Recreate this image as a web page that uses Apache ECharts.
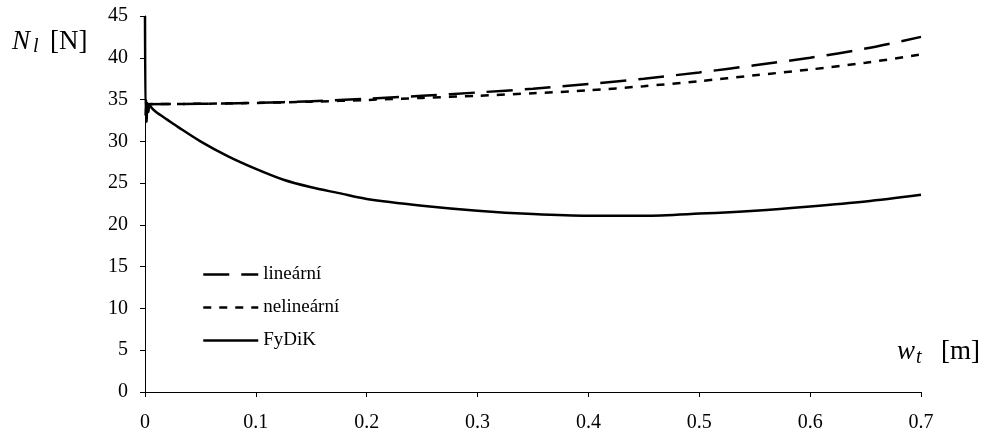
<!DOCTYPE html>
<html>
<head>
<meta charset="utf-8">
<script src="https://cdn.jsdelivr.net/npm/echarts@6/dist/echarts.min.js"></script>
<style>html,body{margin:0;padding:0;background:#fff}#c{width:984px;height:436px}</style>
</head>
<body>
<div id="c"></div>
<script>
// ---- data ----
var xLines = [0, 0.05, 0.1, 0.15, 0.2, 0.25, 0.3, 0.35, 0.4, 0.45, 0.5, 0.55, 0.6, 0.65, 0.7];
var linearValues = [34.45, 34.5, 34.6, 34.8, 35.1, 35.45, 35.85, 36.3, 36.85, 37.5, 38.25, 39.1, 40.0, 41.1, 42.5];
var nonlinearValues = [34.45, 34.5, 34.6, 34.75, 34.95, 35.2, 35.45, 35.75, 36.1, 36.6, 37.2, 37.9, 38.6, 39.4, 40.4];
var xFydik = [0, 0.0005, 0.001, 0.0015, 0.002, 0.003, 0.004, 0.006, 0.01, 0.02, 0.03, 0.05, 0.075, 0.1, 0.125, 0.15, 0.175, 0.2, 0.25, 0.3, 0.35, 0.4, 0.45, 0.5, 0.55, 0.6, 0.65, 0.7];
var fydikValues = [45, 33, 35, 32.3, 34.6, 33.5, 34.4, 34.0, 33.5, 32.6, 31.7, 30.0, 28.2, 26.7, 25.4, 24.5, 23.8, 23.1, 22.3, 21.7, 21.3, 21.1, 21.1, 21.35, 21.7, 22.2, 22.8, 23.6];
var seriesNames = ['lineární', 'nelineární', 'FyDiK'];
var xTicks = {min: 0, max: 0.7, interval: 0.1};
var yTicks = {min: 0, max: 45, interval: 5};

function pairs(xs, ys) { return xs.map(function (x, i) { return [x, ys[i]]; }); }

var FONT = '"Liberation Serif", "Times New Roman", serif';
var chart = echarts.init(document.getElementById('c'));
chart.setOption({
  animation: false,
  backgroundColor: '#fff',
  textStyle: {fontFamily: FONT, color: '#000'},
  grid: {left: 145, right: 63, top: 16, bottom: 44, containLabel: false},
  xAxis: {
    type: 'value', min: xTicks.min, max: xTicks.max, interval: xTicks.interval,
    axisLine: {show: true, onZero: false, lineStyle: {color: '#000', width: 1}},
    axisTick: {show: true, length: 5, lineStyle: {color: '#000'}},
    splitLine: {show: false},
    axisLabel: {color: '#000', fontFamily: FONT, fontSize: 20, margin: 21}
  },
  yAxis: {
    type: 'value', min: yTicks.min, max: yTicks.max, interval: yTicks.interval,
    axisLine: {show: true, onZero: false, lineStyle: {color: '#000', width: 1}},
    axisTick: {show: true, length: 5, lineStyle: {color: '#000'}},
    splitLine: {show: false},
    axisLabel: {color: '#000', fontFamily: FONT, fontSize: 20, margin: 17}
  },
  legend: {
    orient: 'vertical', left: 197, top: 260, itemWidth: 55, itemHeight: 20, itemGap: 14,
    textStyle: {fontFamily: FONT, fontSize: 19, color: '#000'},
    itemStyle: {color: 'rgba(0,0,0,0)', borderWidth: 0, opacity: 0},
    lineStyle: {width: 2.5, color: '#000'},
    data: seriesNames
  },
  series: [
    {name: seriesNames[0], type: 'line', data: pairs(xLines, linearValues), symbol: 'none', smooth: 0.3,
     lineStyle: {color: '#000', width: 2.5, type: [26, 12]}, itemStyle: {color: '#000'}},
    {name: seriesNames[1], type: 'line', data: pairs(xLines, nonlinearValues), symbol: 'none', smooth: 0.3,
     lineStyle: {color: '#000', width: 2.5, type: [8, 8]}, itemStyle: {color: '#000'}},
    {name: seriesNames[2], type: 'line', data: pairs(xFydik, fydikValues), symbol: 'none', smooth: 0.3,
     lineStyle: {color: '#000', width: 2.5, type: 'solid'}, itemStyle: {color: '#000'}}
  ],
  graphic: [
    {type: 'text', left: 12, top: 28, style: {text: 'N', font: 'italic 27px ' + FONT, fill: '#000'}},
    {type: 'text', left: 33, top: 37, style: {text: 'l', font: 'italic 20px ' + FONT, fill: '#000'}},
    {type: 'text', left: 50, top: 28, style: {text: '[N]', font: '27px ' + FONT, fill: '#000'}},
    {type: 'text', left: 897, top: 338, style: {text: 'w', font: 'italic 27px ' + FONT, fill: '#000'}},
    {type: 'text', left: 916, top: 348, style: {text: 't', font: 'italic 20px ' + FONT, fill: '#000'}},
    {type: 'text', left: 941, top: 338, style: {text: '[m]', font: '27px ' + FONT, fill: '#000'}}
  ]
});
</script>
</body>
</html>
